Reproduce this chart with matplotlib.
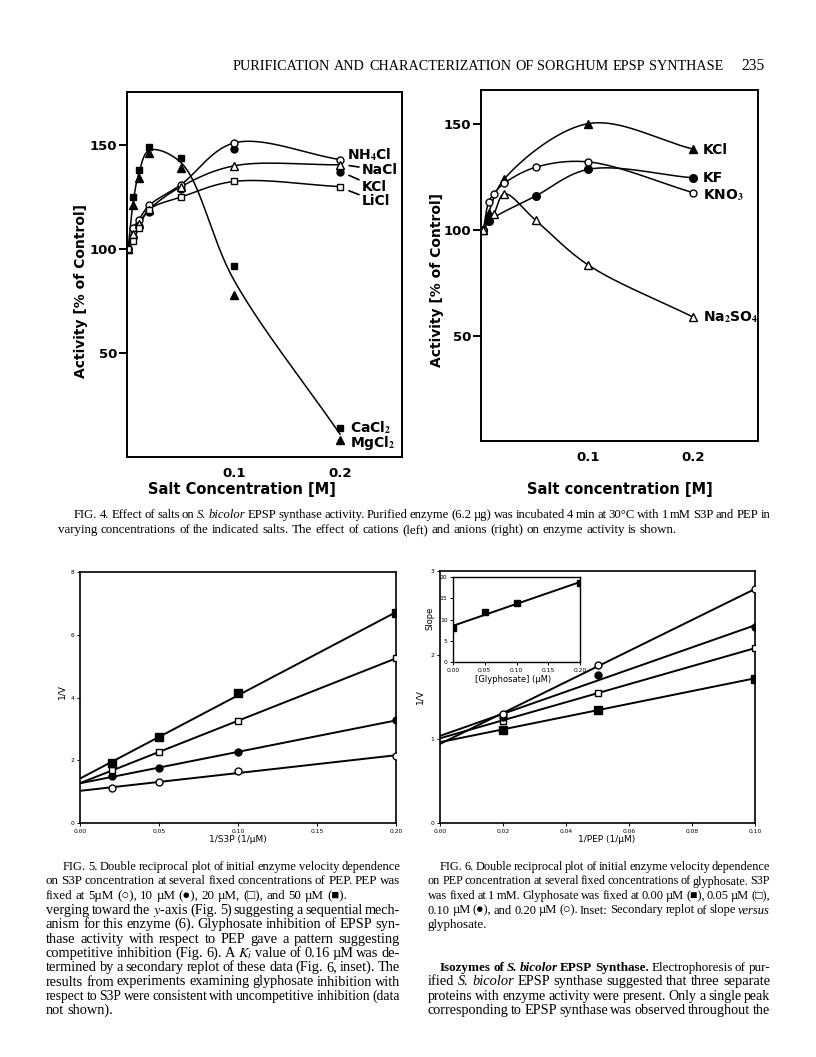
import numpy as np
import matplotlib as mpl
mpl.use('Agg')
import matplotlib.pyplot as plt

plt.rcParams['mathtext.fontset'] = 'stix'

# ---------------- data: Fig. 4 (left, cations) ----------------
salt_x = [0.0, 0.005, 0.01, 0.02, 0.05, 0.1, 0.2]
cacl2 = [100, 125, 138, 149, 144, 92, 14]
mgcl2 = [100, 121, 134, 146, 139, 78, 8]
nh4cl = [100, 110, 114, 121, 131, 151, 143]
nacl = [100, 107, 112, 119, 130, 140, 140.5]
kcl = [100, 106, 111, 118, 129, 148, 137]
licl = [100, 104, 110, 119, 125, 132.5, 130]

# ---------------- data: Fig. 4 (right, anions) ----------------
kcl_r_x = [0.0, 0.005, 0.02, 0.1, 0.2]
kcl_r = [100, 108, 124, 150, 138]
kf_x = [0.0, 0.005, 0.05, 0.1, 0.2]
kf = [100, 104, 116, 128.5, 124.5]
kno3_x = [0.0, 0.005, 0.01, 0.02, 0.05, 0.1, 0.2]
kno3 = [100, 113, 117, 122, 129.5, 132, 117.5]
na2so4_x = [0.0, 0.01, 0.02, 0.05, 0.1, 0.2]
na2so4 = [100, 107.5, 117, 104.5, 83.5, 59]

# ---------------- data: Fig. 5 ----------------
s3p_inv = [0.02, 0.05, 0.10, 0.20]
pep5 = [1.10, 1.31, 1.66, 2.13]
pep10 = [1.49, 1.75, 2.25, 3.28]
pep20 = [1.68, 2.25, 3.26, 5.25]
pep50 = [1.91, 2.74, 4.14, 6.69]

# ---------------- data: Fig. 6 ----------------
pep_inv = [0.02, 0.05, 0.10]
gly000 = [1.11, 1.35, 1.72]
gly005 = [1.22, 1.55, 2.08]
gly010 = [1.26, 1.76, 2.33]
gly020 = [1.30, 1.88, 2.78]
gly_conc = [0.0, 0.05, 0.10, 0.20]
gly_slope = [7.9, 11.7, 14.0, 18.5]

W, H = 816, 1057
fig = plt.figure(figsize=(W / 100, H / 100), dpi=100)
fig.patch.set_facecolor('white')


def box(l, t, r, b):
    return [l / W, 1 - b / H, (r - l) / W, (b - t) / H]


def fx(px):
    return px / W


def fy(py):
    return 1 - py / H


def smooth(xs, ys, kx, ky, n=40):
    # centripetal Catmull-Rom through the points, computed in pixel space
    P = np.column_stack([np.asarray(xs, float) * kx, np.asarray(ys, float) * ky])
    P = np.vstack([2 * P[0] - P[1], P, 2 * P[-1] - P[-2]])
    out = []
    for i in range(len(P) - 3):
        p0, p1, p2, p3 = P[i], P[i + 1], P[i + 2], P[i + 3]
        t0 = 0.0
        t1 = t0 + np.linalg.norm(p1 - p0) ** 0.5
        t2 = t1 + np.linalg.norm(p2 - p1) ** 0.5
        t3 = t2 + np.linalg.norm(p3 - p2) ** 0.5
        t = np.linspace(t1, t2, n)[:, None]
        a1 = (t1 - t) / (t1 - t0) * p0 + (t - t0) / (t1 - t0) * p1
        a2 = (t2 - t) / (t2 - t1) * p1 + (t - t1) / (t2 - t1) * p2
        a3 = (t3 - t) / (t3 - t2) * p2 + (t - t2) / (t3 - t2) * p3
        b1 = (t2 - t) / (t2 - t0) * a1 + (t - t0) / (t2 - t0) * a2
        b2 = (t3 - t) / (t3 - t1) * a2 + (t - t1) / (t3 - t1) * a3
        out.append((t2 - t) / (t2 - t1) * b1 + (t - t1) / (t2 - t1) * b2)
    c = np.vstack(out)
    return c[:, 0] / kx, c[:, 1] / ky


BOLD = dict(fontweight='bold', family='DejaVu Sans')
filled = dict(color='black', mfc='black', mec='black', ls='none')
hollow = dict(color='black', mfc='white', mec='black', mew=1.0, ls='none')


def fig4_axes(rect, xlim, ylim):
    ax = fig.add_axes(rect)
    ax.set_xlim(*xlim)
    ax.set_ylim(*ylim)
    for s in ax.spines.values():
        s.set_linewidth(1.4)
    ax.set_yticks([50, 100, 150])
    ax.set_yticklabels(['50', '100', '150'], fontsize=9.5, **BOLD)
    ax.set_xticks([0.1, 0.2])
    ax.set_xticklabels(['0.1', '0.2'], fontsize=9.5, **BOLD)
    ax.tick_params(axis='y', direction='out', length=6, width=1.4, pad=1)
    ax.tick_params(axis='x', length=0, pad=7)
    return ax


# ---------------- Fig. 4 left ----------------
ax1 = fig4_axes(box(127, 92, 402, 457), (-0.001, 0.2585), (0, 175.5))
kx1, ky1 = 1060, 2.08
ca_mg = (np.array(cacl2) + np.array(mgcl2)) / 2
for yy in [ca_mg, nh4cl, nacl, licl]:
    cx, cy = smooth(salt_x, yy, kx1, ky1)
    ax1.plot(cx, cy, color='black', lw=1.1)
ax1.plot(salt_x, cacl2, marker='s', ms=5, **filled)
ax1.plot(salt_x, mgcl2, marker='^', ms=5.5, **filled)
ax1.plot(salt_x, kcl, marker='o', ms=5, **filled)
ax1.plot(salt_x, nh4cl, marker='o', ms=5, **hollow)
ax1.plot(salt_x, nacl, marker='^', ms=5.5, **hollow)
ax1.plot(salt_x, licl, marker='s', ms=4.5, **hollow)

ax1.text(0.207, 145.5, r'NH$_\mathbf{4}$Cl', fontsize=10, va='center', **BOLD)
leader = dict(arrowstyle='-', lw=1.2, color='black', shrinkA=0, shrinkB=2)
ax1.annotate('NaCl', xy=(0.206, 140.3), xytext=(0.2205, 138), va='center',
             fontsize=10, arrowprops=leader, **BOLD)
ax1.annotate('KCl', xy=(0.206, 136), xytext=(0.2205, 130), va='center',
             fontsize=10, arrowprops=leader, **BOLD)
ax1.annotate('LiCl', xy=(0.206, 128.5), xytext=(0.2205, 123), va='center',
             fontsize=10, arrowprops=leader, **BOLD)
ax1.text(0.209, 14, r'CaCl$_\mathbf{2}$', fontsize=10, va='center', **BOLD)
ax1.text(0.209, 6.5, r'MgCl$_\mathbf{2}$', fontsize=10, va='center', **BOLD)

fig.text(fx(81), fy(291), 'Activity [% of Control]', rotation=90, ha='center',
         va='center', fontsize=10, **BOLD)
fig.text(fx(242), fy(490), 'Salt Concentration [M]', ha='center', va='center',
         fontsize=10.5, **BOLD)

# ---------------- Fig. 4 right ----------------
ax2 = fig4_axes(box(481, 90, 758, 441), (-0.0022, 0.2616), (0.8, 165.8))
kx2, ky2 = 1050, 2.13
for xx, yy in [(kcl_r_x, kcl_r), (kf_x, kf), (kno3_x, kno3), (na2so4_x, na2so4)]:
    cx, cy = smooth(xx, yy, kx2, ky2)
    ax2.plot(cx, cy, color='black', lw=1.1)
ax2.plot(kcl_r_x, kcl_r, marker='^', ms=5.5, **filled)
ax2.plot(kf_x, kf, marker='o', ms=5.5, **filled)
ax2.plot(kno3_x, kno3, marker='o', ms=5, **hollow)
ax2.plot(na2so4_x, na2so4, marker='^', ms=5.5, **hollow)

ax2.text(0.209, 137.6, 'KCl', fontsize=10, va='center', **BOLD)
ax2.text(0.209, 124.6, 'KF', fontsize=10, va='center', **BOLD)
ax2.text(0.209, 116.5, r'KNO$_\mathbf{3}$', fontsize=10, va='center', **BOLD)
ax2.text(0.209, 59, r'Na$_\mathbf{2}$SO$_\mathbf{4}$', fontsize=10, va='center', **BOLD)

fig.text(fx(437), fy(280), 'Activity [% of Control]', rotation=90, ha='center',
         va='center', fontsize=10, **BOLD)
fig.text(fx(620), fy(490), 'Salt concentration [M]', ha='center', va='center',
         fontsize=10.5, **BOLD)

# ---------------- Fig. 5 / Fig. 6 ----------------
SMALL = dict(family='DejaVu Sans')


def lb_axes(rect, xlim, ylim, xt, xl, yt, yl, lw=1.2, fs=4.3):
    ax = fig.add_axes(rect)
    ax.set_xlim(*xlim)
    ax.set_ylim(*ylim)
    for s in ax.spines.values():
        s.set_linewidth(lw)
    ax.set_xticks(xt)
    ax.set_xticklabels(xl, fontsize=fs, **SMALL)
    ax.set_yticks(yt)
    ax.set_yticklabels(yl, fontsize=fs, **SMALL)
    ax.tick_params(direction='out', length=2.5, width=0.7, pad=1.5)
    return ax


def fit_line(ax, xs, ys, x0, x1):
    m, b = np.polyfit(xs, ys, 1)
    xx = np.array([x0, x1])
    ax.plot(xx, m * xx + b, color='black', lw=1.4, zorder=2)


ax5 = lb_axes(box(80, 572, 396, 823), (0, 0.2), (0, 8),
              [0, 0.05, 0.10, 0.15, 0.20], ['0.00', '0.05', '0.10', '0.15', '0.20'],
              [0, 2, 4, 6, 8], ['0', '2', '4', '6', '8'])
for yy in [pep5, pep10, pep20, pep50]:
    fit_line(ax5, s3p_inv, yy, 0, 0.2)
ax5.plot(s3p_inv, pep5, marker='o', ms=5, zorder=3, **hollow)
ax5.plot(s3p_inv, pep10, marker='o', ms=5, zorder=3, **filled)
ax5.plot(s3p_inv, pep20, marker='s', ms=5, zorder=3, **hollow)
ax5.plot(s3p_inv, pep50, marker='s', ms=5.5, zorder=3, **filled)
fig.text(fx(62), fy(692), '1/V', rotation=90, ha='center', va='center',
         fontsize=6.5, **SMALL)
fig.text(fx(238), fy(840), '1/S3P (1/µM)', ha='center', va='center',
         fontsize=6.5, **SMALL)

ax6 = lb_axes(box(440, 571, 755, 823), (0, 0.1), (0, 3),
              [0, 0.02, 0.04, 0.06, 0.08, 0.10],
              ['0.00', '0.02', '0.04', '0.06', '0.08', '0.10'],
              [0, 1, 2, 3], ['0', '1', '2', '3'])
for yy in [gly000, gly005, gly010, gly020]:
    fit_line(ax6, pep_inv, yy, 0, 0.1)
ax6.plot(pep_inv, gly000, marker='s', ms=5.5, zorder=3, **filled)
ax6.plot(pep_inv, gly005, marker='s', ms=5, zorder=3, **hollow)
ax6.plot(pep_inv, gly010, marker='o', ms=5, zorder=3, **filled)
ax6.plot(pep_inv, gly020, marker='o', ms=5, zorder=3, **hollow)
fig.text(fx(420), fy(697), '1/V', rotation=90, ha='center', va='center',
         fontsize=6.5, **SMALL)
fig.text(fx(607), fy(840), '1/PEP (1/µM)', ha='center', va='center',
         fontsize=6.5, **SMALL)

axi = lb_axes(box(453, 577, 580, 662), (0, 0.2), (0, 20),
              [0, 0.05, 0.10, 0.15, 0.20], ['0.00', '0.05', '0.10', '0.15', '0.20'],
              [0, 5, 10, 15, 20], ['0', '5', '10', '15', '20'], lw=1.0)
axi.set_facecolor('white')
axi.set_zorder(5)
fit_line(axi, gly_conc, gly_slope, 0, 0.2)
axi.plot(gly_conc, gly_slope, marker='s', ms=5, zorder=3, **filled)
fig.text(fx(430), fy(618), 'Slope', rotation=90, ha='center', va='center',
         fontsize=6, **SMALL)
fig.text(fx(513), fy(680), '[Glyphosate] (µM)', ha='center', va='center',
         fontsize=6, **SMALL)

# ---------------- page text ----------------
SERIF = ['Liberation Serif', 'DejaVu Sans']
renderer = fig.canvas.get_renderer()


def words_of(line):
    # '*' toggles italic, '#' toggles bold
    it, bd = False, False
    words, cur, st = [], '', None
    for ch in line:
        if ch == '*':
            it = not it
            continue
        if ch == '#':
            bd = not bd
            continue
        if ch == ' ':
            if cur:
                words.append((cur, st))
            cur, st = '', None
            continue
        if st is None:
            st = (it, bd)
        cur += ch
    if cur:
        words.append((cur, st))
    return words


def make_words(line, size, y=0):
    items = []
    for w, (it, bd) in words_of(line):
        t = fig.text(0, fy(y), w, fontsize=size, family=SERIF, va='baseline',
                     fontstyle='italic' if it else 'normal',
                     fontweight='bold' if bd else 'normal')
        items.append((t, t.get_window_extent(renderer).width))
    return items


def ratio(line, target, ref=10.0, gap=0.25):
    # font size at which the words plus normal spaces fill the target width
    items = make_words(line, ref)
    wd = sum(w for _, w in items) + ref * 100 / 72 * gap * (len(items) - 1)
    for t, _ in items:
        t.remove()
    return ref * target / wd


def put_line(line, x0, x1, y, size, justify=True):
    if justify:
        size = min(size, ratio(line, x1 - x0, gap=0.18))
    items = make_words(line, size, y)
    total = sum(wd for _, wd in items)
    space = size * 100 / 72 * 0.25
    if justify and len(items) > 1:
        gap = (x1 - x0 - total) / (len(items) - 1)
    else:
        gap = space
    x = x0
    for t, wd in items:
        t.set_x(fx(x))
        x += wd + gap


def put_par(lines, xs, x1, y0, dy, size, last_justified=False):
    for i, ln in enumerate(lines):
        just = last_justified or i < len(lines) - 1
        put_line(ln, xs[min(i, len(xs) - 1)], x1, y0 + i * dy, size, just)


def spans_of(lines, xs, x1, last_justified=False):
    n = len(lines) if last_justified else len(lines) - 1
    return [(lines[i], x1 - xs[min(i, len(xs) - 1)]) for i in range(n)]


header = 'PURIFICATION AND CHARACTERIZATION OF SORGHUM EPSP SYNTHASE'
cap4 = ['FIG. 4. Effect of salts on *S. bicolor* EPSP synthase activity. Purified enzyme '
        '(6.2 µg) was incubated 4 min at 30°C with 1 mM S3P and PEP in',
        'varying concentrations of the indicated salts. The effect of cations (left) and '
        'anions (right) on enzyme activity is shown.']
cap5 = ['FIG. 5. Double reciprocal plot of initial enzyme velocity dependence',
        'on S3P concentration at several fixed concentrations of PEP. PEP was',
        'fixed at 5µM (○), 10 µM (●), 20 µM, (□), and 50 µM (■).']
body5 = ['verging toward the $y$-axis (Fig. 5) suggesting a sequential mech-',
         'anism for this enzyme (6). Glyphosate inhibition of EPSP syn-',
         'thase activity with respect to PEP gave a pattern suggesting',
         'competitive inhibition (Fig. 6). A $K_i$ value of 0.16 µM was de-',
         'termined by a secondary replot of these data (Fig. 6, inset). The',
         'results from experiments examining glyphosate inhibition with',
         'respect to S3P were consistent with uncompetitive inhibition (data',
         'not shown).']
cap6 = ['FIG. 6. Double reciprocal plot of initial enzyme velocity dependence',
        'on PEP concentration at several fixed concentrations of glyphosate. S3P',
        'was fixed at 1 mM. Glyphosate was fixed at 0.00 µM (■), 0.05 µM (□),',
        '0.10 µM (●), and 0.20 µM (○). Inset: Secondary replot of slope *versus*',
        'glyphosate.']
body6 = ['#Isozymes of *S. bicolor* EPSP Synthase.# Electrophoresis of pur-',
         'ified *S. bicolor* EPSP synthase suggested that three separate',
         'proteins with enzyme activity were present. Only a single peak',
         'corresponding to EPSP synthase was observed throughout the']

cap_spans = spans_of(cap4, [74, 58], 770) + spans_of(cap5, [63, 46], 400) \
    + spans_of(cap6, [440, 428], 770)
body_spans = spans_of(body5, [46], 400) + spans_of(body6, [440, 428], 770, True)
cap_size = float(np.median([ratio(ln, tw) for ln, tw in cap_spans])) * 1.07
body_size = float(np.median([ratio(ln, tw) for ln, tw in body_spans])) * 1.03
head_size = ratio(header, 490, gap=0.3)

put_line(header, 233, 723, 70, head_size)
fig.text(fx(741), fy(70), '235', fontsize=head_size * 1.1, family=SERIF, va='baseline')
put_par(cap4, [74, 58], 770, 518, 15, cap_size)
put_par(cap5, [63, 46], 400, 870, 14.5, cap_size)
put_par(body5, [46], 400, 914, 14.3, body_size)
put_par(cap6, [440, 428], 770, 870, 14.5, cap_size)
put_par(body6, [440, 428], 770, 971, 14.3, body_size, last_justified=True)

fig.savefig('out.png', dpi=100, facecolor='white')
